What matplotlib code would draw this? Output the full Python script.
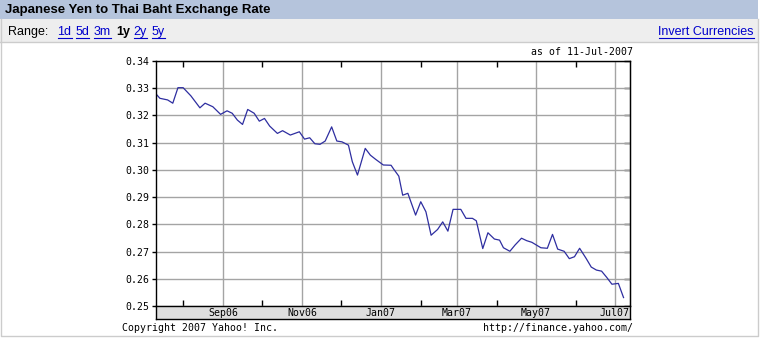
import matplotlib
matplotlib.use('Agg')
import matplotlib.pyplot as plt
import matplotlib.dates as mdates
from matplotlib.patches import Rectangle
from matplotlib.lines import Line2D
import datetime as dt

#--- Data (JPY -> THB)
dates = ['2006-07-11', '2006-07-14', '2006-07-20', '2006-07-24', '2006-07-28',
         '2006-08-01', '2006-08-07', '2006-08-14', '2006-08-18', '2006-08-24',
         '2006-08-30', '2006-09-04', '2006-09-08', '2006-09-12', '2006-09-16',
         '2006-09-20', '2006-09-25', '2006-09-29', '2006-10-03', '2006-10-07',
         '2006-10-13', '2006-10-17', '2006-10-23', '2006-10-30', '2006-11-03',
         '2006-11-07', '2006-11-11', '2006-11-15', '2006-11-19', '2006-11-24',
         '2006-11-28', '2006-12-02', '2006-12-07', '2006-12-10', '2006-12-14',
         '2006-12-20', '2006-12-24', '2006-12-28', '2007-01-03', '2007-01-09',
         '2007-01-11', '2007-01-15', '2007-01-18', '2007-01-22', '2007-01-28',
         '2007-02-01', '2007-02-05', '2007-02-09', '2007-02-14', '2007-02-18',
         '2007-02-22', '2007-02-26', '2007-03-04', '2007-03-08', '2007-03-13',
         '2007-03-16', '2007-03-21', '2007-03-25', '2007-03-30', '2007-04-03',
         '2007-04-06', '2007-04-11', '2007-04-15', '2007-04-20', '2007-04-24',
         '2007-04-28', '2007-05-05', '2007-05-10', '2007-05-14', '2007-05-18',
         '2007-05-23', '2007-05-27', '2007-05-31', '2007-06-04', '2007-06-09',
         '2007-06-13', '2007-06-17', '2007-06-21', '2007-06-25', '2007-06-29',
         '2007-07-04', '2007-07-08']
rates = [0.3279, 0.3263, 0.3257, 0.3245, 0.3302, 0.3302, 0.3272, 0.3228, 0.3245, 0.3232,
         0.3204, 0.3217, 0.3208, 0.3183, 0.3167, 0.3222, 0.3208, 0.3179, 0.3189, 0.3161,
         0.3134, 0.3144, 0.3128, 0.3140, 0.3113, 0.3118, 0.3096, 0.3094, 0.3106, 0.3158,
         0.3106, 0.3103, 0.3091, 0.3030, 0.2981, 0.3079, 0.3054, 0.3039, 0.3018, 0.3017,
         0.3003, 0.2977, 0.2907, 0.2914, 0.2834, 0.2883, 0.2846, 0.2760, 0.2781, 0.2809,
         0.2775, 0.2855, 0.2855, 0.2822, 0.2822, 0.2813, 0.2711, 0.2769, 0.2746, 0.2742,
         0.2714, 0.2701, 0.2724, 0.2749, 0.2740, 0.2734, 0.2714, 0.2712, 0.2763, 0.2709,
         0.2701, 0.2674, 0.2681, 0.2712, 0.2675, 0.2643, 0.2632, 0.2628, 0.2605, 0.2580,
         0.2583, 0.2531]

y_ticks = [0.25, 0.26, 0.27, 0.28, 0.29, 0.30, 0.31, 0.32, 0.33, 0.34]
month_ticks = ['2006-09-01', '2006-11-01', '2007-01-01', '2007-03-01', '2007-05-01', '2007-07-01']
month_labels = ['Sep06', 'Nov06', 'Jan07', 'Mar07', 'May07', 'Jul07']
minor_ticks = ['2006-08-01', '2006-10-01', '2006-12-01', '2007-02-01', '2007-04-01', '2007-06-01']
x_range = ['2006-07-11', '2007-07-13']

range_links = ['1d', '5d', '3m', '1y', '2y', '5y']

W, H = 763, 340
MONO = 'DejaVu Sans Mono'
SANS = 'Liberation Sans'
LINK = '#0000cc'


def to_num(lst):
	return [mdates.date2num(dt.datetime.strptime(s, '%Y-%m-%d')) for s in lst]


def fx(x):
	return x / W


def fy(y):
	return 1 - y / H


def main():
	fig = plt.figure(figsize = (W / 100, H / 100), dpi = 100)
	fig.patch.set_facecolor('white')

	#--- Header bars
	fig.add_artist(Rectangle((fx(0), fy(19)), fx(758), 19 / H, transform = fig.transFigure,
		facecolor = '#b5c4dc', edgecolor = 'none'))
	fig.add_artist(Rectangle((fx(0), fy(42)), fx(758), 23 / H, transform = fig.transFigure,
		facecolor = '#eeeeee', edgecolor = 'none'))
	fig.add_artist(Line2D([fx(0), fx(758)], [fy(42), fy(42)], color = '#cccccc', lw = 1))
	#--- Outer border of the box
	fig.add_artist(Line2D([fx(0.5), fx(0.5), fx(757.5), fx(757.5)], [fy(19), fy(336), fy(336), fy(19)],
		color = '#cccccc', lw = 1))

	fig.text(fx(5), fy(10), 'Japanese Yen to Thai Baht Exchange Rate', family = SANS,
		weight = 'bold', fontsize = 9.5, va = 'center', ha = 'left')
	fig.text(fx(8), fy(32), 'Range:', family = SANS, fontsize = 9, va = 'center', ha = 'left')

	renderer = fig.canvas.get_renderer()
	link_x = [57.5, 75.5, 93.5, 116, 133.5, 151.5]
	for lbl, x in zip(range_links, link_x):
		if lbl == '1y':
			fig.text(fx(x), fy(32), lbl, family = SANS, fontsize = 9, weight = 'bold',
				va = 'center', ha = 'left')
		else:
			t = fig.text(fx(x), fy(32), lbl, family = SANS, fontsize = 9, color = LINK,
				va = 'center', ha = 'left')
			bb = t.get_window_extent(renderer)
			fig.add_artist(Line2D([bb.x0 / W, bb.x1 / W], [fy(38), fy(38)], color = LINK, lw = 0.8))

	t = fig.text(fx(754), fy(32), 'Invert Currencies', family = SANS, fontsize = 9, color = LINK,
		va = 'center', ha = 'right')
	bb = t.get_window_extent(renderer)
	fig.add_artist(Line2D([bb.x0 / W, bb.x1 / W], [fy(38), fy(38)], color = LINK, lw = 0.8))

	fig.text(fx(633), fy(52), 'as of 11-Jul-2007', family = MONO, fontsize = 7.1, ha = 'right', va = 'center')
	fig.text(fx(122), fy(328), 'Copyright 2007 Yahoo! Inc.', family = MONO, fontsize = 7.1, ha = 'left', va = 'center')
	fig.text(fx(633), fy(328), 'http://finance.yahoo.com/', family = MONO, fontsize = 7.1, ha = 'right', va = 'center')

	#--- Main plot
	x = to_num(dates)
	xlim = to_num(x_range)
	ax = fig.add_axes([fx(156), fy(306), fx(630) - fx(156), (306 - 61) / H])
	ax.plot(x, rates, color = '#2e2ea0', lw = 0.9)
	ax.set_xlim(xlim)
	ax.set_ylim(0.25, 0.34)
	ax.set_yticks(y_ticks)
	ax.set_yticklabels(['%.2f' % v for v in y_ticks], family = MONO, fontsize = 7.1)
	ax.set_xticks(to_num(month_ticks))
	ax.set_xticks(to_num(minor_ticks), minor = True)
	ax.set_xticklabels([])
	ax.grid(True, which = 'major', color = '#a4a4a4', lw = 1)
	ax.tick_params(axis = 'y', which = 'both', direction = 'out', length = 3, width = 1, pad = 2,
		color = 'black')
	ax.tick_params(axis = 'x', which = 'major', length = 0)
	ax.tick_params(axis = 'x', which = 'minor', direction = 'in', length = 4, width = 1,
		top = True, bottom = True)
	for s in ax.spines.values():
		s.set_color('black')
		s.set_linewidth(1)
	ax.spines['bottom'].set_visible(False)

	#--- Inward ticks on the right edge
	right = ax.secondary_yaxis('right')
	right.set_yticks(y_ticks)
	right.set_yticklabels([])
	right.tick_params(direction = 'in', length = 4, width = 1, color = 'black')
	right.spines['right'].set_color('black')

	#--- Month band under the plot
	band = fig.add_axes([fx(156), fy(319), fx(630) - fx(156), 13 / H], sharex = ax)
	band.set_facecolor('#dedede')
	band.set_yticks([])
	band.tick_params(axis = 'x', which = 'both', length = 0, labelbottom = False)
	for s in band.spines.values():
		s.set_color('black')
		s.set_linewidth(1)
	for d, lbl in zip(to_num(month_ticks), month_labels):
		band.text(d, 0.45, lbl, family = MONO, fontsize = 7.1, ha = 'center', va = 'center')

	fig.savefig('out.png', dpi = 100)
	plt.close()


if __name__ == "__main__":
	main()
